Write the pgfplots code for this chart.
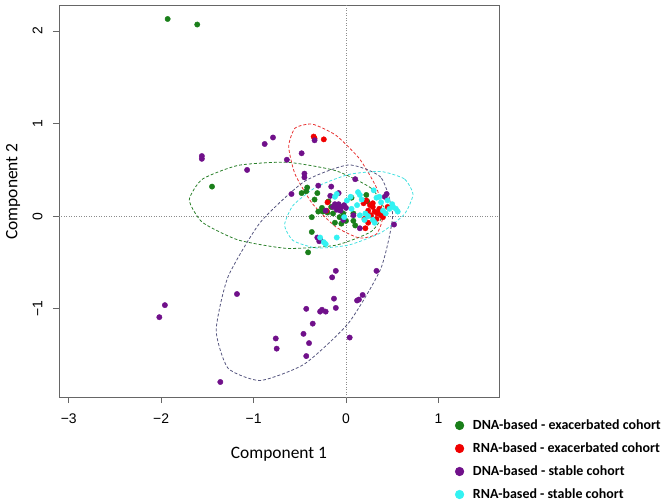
\documentclass[border=0pt]{standalone}
\usepackage{fontspec}
\setmainfont{Carlito}
\newfontfamily\ticksfont{Liberation Sans}
\usepackage{pgfplots}
\pgfplotsset{compat=1.18}
\definecolor{dgreen}{HTML}{1A7F1A}
\definecolor{dred}{HTML}{F00000}
\definecolor{dpurple}{HTML}{70108A}
\definecolor{dcyan}{HTML}{33F2F2}
\definecolor{egreen}{HTML}{2A802A}
\definecolor{ered}{HTML}{E83030}
\definecolor{epurple}{HTML}{55557F}
\definecolor{ecyan}{HTML}{40E0E0}

\begin{document}
\begin{tikzpicture}
\useasboundingbox (-59bp,-105bp) rectangle (606bp,397bp);
\begin{axis}[
  scale only axis, width=440bp, height=392bp,
  xmin=-3.106, xmax=1.656, ymin=-1.952, ymax=2.281,
  axis line style={draw=black!60, line width=0.8pt},
  tick pos=left, tick align=outside,
  major tick length=6bp,
  tick style={black!60, line width=0.8pt},
  xtick={-3,-2,-1,0,1}, xticklabels={−3,−2,−1,0,1},
  ytick={-1,0,1,2}, yticklabels={−1,0,1,2},
  tick label style={font=\ticksfont\fontsize{14}{16}\selectfont},
  xticklabel shift=7bp, yticklabel shift=7bp,
  yticklabel style={rotate=90, anchor=south},
  xlabel={Component 1}, ylabel={Component 2},
  label style={font=\fontsize{17.5}{20}\selectfont},
  xlabel style={at={(axis description cs:0.5,-0.147)}, anchor=center},
  ylabel style={at={(axis description cs:-0.1045,0.524)}, anchor=center},
  legend style={at={(axis description cs:0.9,-0.055)}, anchor=north west,
    draw=none, fill=none, inner sep=0pt, row sep=9.5bp,
    font=\bfseries\fontsize{14}{16}\selectfont,
    nodes={inner sep=0pt, text height=10.5bp, text depth=3bp},
    /tikz/every odd column/.append style={column sep=9bp}},
  legend cell align=left,
  legend image code/.code={\draw[#1,mark size=4.4pt] plot coordinates {(4.5bp,0bp)};},
]
% reference lines
\addplot[forget plot, black!45, dotted, line width=0.5pt] coordinates {(0,-1.952) (0,2.281)};
\addplot[forget plot, black!45, dotted, line width=0.5pt] coordinates {(-3.106,0) (1.656,0)};

% DNA-based - exacerbated cohort
\addplot[only marks, mark=*, dgreen, mark size=2.7pt] coordinates {
(-1.93,2.13) (-1.61,2.07) (-1.45,0.32) (-0.41,-0.39) (-0.37,-0.01) (-0.37,-0.17)
(-0.42,0.31) (-0.48,0.25) (-0.43,0.27) (-0.34,0.18) (-0.31,0.25) (-0.26,0.09)
(-0.25,0.05) (-0.20,0.04) (-0.16,0.10) (-0.14,0.03) (-0.07,-0.01) (-0.03,0.03)
(0.00,-0.05) (-0.12,-0.07) (0.08,-0.05) (0.08,0.03) (0.06,0.20) (0.22,0.23)
(0.23,0.16) (-0.19,0.16) (-0.30,0.05) (-0.05,-0.08) (0.10,-0.10)
};
\addlegendentry{DNA-based - exacerbated cohort}

% RNA-based - exacerbated cohort
\addplot[only marks, mark=*, dred, mark size=2.7pt] coordinates {
(-0.35,0.86) (-0.34,0.84) (-0.24,0.83) (-0.20,0.15) (-0.21,0.06) (0.19,0.14)
(0.22,0.17) (0.24,0.06) (0.29,0.10) (0.31,0.05) (0.34,0.03) (0.38,0.01)
(0.40,-0.01) (0.36,0.08) (0.27,0.01) (0.21,-0.13) (0.24,-0.07) (0.45,0.10)
(0.29,0.14) (0.33,-0.03) (0.20,-0.03) (0.26,0.12) (0.37,0.05) (0.41,0.03)
};
\addlegendentry{RNA-based - exacerbated cohort}

% DNA-based - stable cohort
\addplot[only marks, mark=*, dpurple, mark size=2.7pt] coordinates {
(-0.79,0.85) (-0.88,0.78) (-1.56,0.65) (-1.56,0.62) (-1.07,0.50) (-0.48,0.68)
(-0.64,0.61) (-0.34,0.82) (-0.45,0.46) (-0.45,0.42) (-0.59,0.24) (-0.30,0.33)
(-0.16,0.32) (-0.17,0.22) (-0.08,0.25) (0.10,0.40) (-0.12,0.13) (-0.14,0.10)
(-0.10,0.10) (-0.08,0.13) (-0.05,0.10) (-0.02,0.12) (0.00,0.09) (-0.10,0.07)
(-0.06,0.06) (-0.22,0.06) (0.08,0.01) (0.15,-0.13) (-0.31,-0.23) (-0.28,-0.25)
(-0.29,-0.27) (0.44,0.24) (0.42,0.21) (0.52,-0.09) (-0.03,-0.04)
(-0.11,-0.59) (-0.15,-0.66) (0.33,-0.59) (-1.18,-0.84) (-1.96,-0.96) (-2.02,-1.09)
(-0.13,-0.89) (-0.11,-0.99) (-0.43,-1.00) (-0.28,-1.03) (-0.26,-1.01) (-0.22,-1.03)
(-0.36,-1.16) (0.18,-0.85) (0.14,-0.90) (0.12,-0.91) (0.04,-1.31) (-0.46,-1.27)
(-0.40,-1.37) (-0.76,-1.32) (-0.75,-1.43) (-0.43,-1.51) (-1.36,-1.79)
};
\addlegendentry{DNA-based - stable cohort}

% RNA-based - stable cohort
\addplot[only marks, mark=*, dcyan, mark size=2.7pt] coordinates {
(-0.24,-0.28) (-0.22,-0.30) (-0.10,-0.23) (-0.28,-0.23) (-0.12,0.21) (-0.10,0.24)
(0.01,0.17) (0.05,0.21) (0.13,0.26) (0.15,0.23) (0.30,0.28) (0.36,0.21)
(0.38,0.15) (0.45,0.17) (0.50,0.13) (0.51,0.10) (0.54,0.08) (0.56,0.05)
(0.43,0.03) (0.29,-0.04) (0.31,-0.07) (0.20,-0.04) (0.15,0.01) (0.06,0.08)
(0.12,0.12) (0.24,0.00) (0.40,0.06) (0.21,0.03) (0.17,0.18) (0.47,0.08)
(0.33,0.20) (-0.02,-0.01)
};
\addlegendentry{RNA-based - stable cohort}

% confidence ellipses
\addplot[forget plot, egreen, densely dashed, line width=0.8pt, smooth cycle, tension=0.35] coordinates {
(0.416,0.061) (0.275,0.301) (-0.112,0.492) (-0.640,0.583) (-1.168,0.549) (-1.555,0.400)
(-1.696,0.175) (-1.555,-0.065) (-1.168,-0.256) (-0.640,-0.347) (-0.112,-0.313) (0.275,-0.164)
};
\addplot[forget plot, ered, densely dashed, line width=0.8pt, smooth cycle, tension=0.35] coordinates {
(0.400,0.007) (0.332,0.304) (0.145,0.622) (-0.110,0.875) (-0.365,0.995) (-0.552,0.951)
(-0.620,0.753) (-0.552,0.456) (-0.365,0.138) (-0.110,-0.115) (0.145,-0.235) (0.332,-0.190)
};
\addplot[forget plot, epurple, densely dashed, line width=0.8pt, smooth cycle, tension=0.35] coordinates {
(0.505,0.011) (0.377,0.421) (0.028,0.554) (-0.450,0.376) (-0.928,-0.067) (-1.277,-0.655)
(-1.405,-1.231) (-1.277,-1.641) (-0.928,-1.774) (-0.450,-1.596) (0.028,-1.153) (0.377,-0.565)
};
\addplot[forget plot, ecyan, densely dashed, line width=0.8pt, smooth cycle, tension=0.35] coordinates {
(0.725,0.235) (0.632,0.403) (0.378,0.483) (0.030,0.451) (-0.318,0.318) (-0.572,0.118)
(-0.665,-0.095) (-0.572,-0.263) (-0.318,-0.343) (0.030,-0.311) (0.378,-0.178) (0.632,0.022)
};
\end{axis}
\end{tikzpicture}
\end{document}
